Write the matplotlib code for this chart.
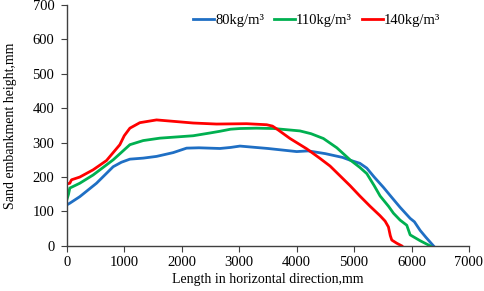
import numpy as np
import matplotlib
matplotlib.use('Agg')
from matplotlib import pyplot as plt

x_80 = [0, 52, 226, 517, 807, 950, 1098, 1330, 1562, 1852, 2085, 2300, 2665, 2850, 3014, 3500, 4001, 4200, 4500, 4800, 4930, 5100, 5221, 5350, 5511, 5650, 5801, 5976, 6050, 6150, 6250, 6382]
y_80 = [119, 124, 143, 182, 230, 243, 252, 255, 260, 271, 284, 285, 283, 286, 290, 283, 274, 276, 268, 257, 249, 240, 226, 200, 170, 142, 112, 80, 70, 45, 25, 0]

x_110 = [0, 30, 52, 226, 458, 807, 1098, 1330, 1620, 2200, 2491, 2665, 2850, 3014, 3300, 3600, 4059, 4250, 4466, 4700, 4930, 5100, 5221, 5350, 5453, 5600, 5685, 5800, 5917, 5976, 6150, 6324]
y_110 = [134, 150, 168, 182, 206, 250, 294, 306, 313, 320, 328, 333, 339, 341, 342, 341, 334, 326, 312, 285, 250, 228, 210, 175, 145, 115, 95, 75, 60, 32, 15, 0]

x_140 = [0, 52, 82, 226, 458, 691, 923, 1000, 1098, 1272, 1562, 2200, 2607, 3130, 3479, 3580, 3653, 3885, 4176, 4400, 4582, 4930, 5100, 5279, 5450, 5540, 5598, 5630, 5656, 5740, 5830]
y_140 = [180, 182, 192, 200, 221, 248, 294, 320, 342, 358, 366, 357, 354, 355, 352, 348, 340, 312, 282, 255, 232, 175, 145, 115, 88, 72, 55, 30, 17, 8, 0]

labels = ['80kg/m³', '110kg/m³', '140kg/m³']
colors = ['#1f6fc4', '#00b050', '#ff0000']

plt.rcParams['font.family'] = ['Liberation Serif', 'DejaVu Serif']

fig = plt.figure(figsize=(4.84, 2.91), dpi=100)
ax = fig.add_axes([0.138, 0.155, 0.831, 0.828])

for xs, ys, lab, c in zip([x_80, x_110, x_140], [y_80, y_110, y_140], labels, colors):
	ax.plot(xs, ys, color=c, lw=2, label=lab)

ax.set_xlim(0, 7000)
ax.set_ylim(0, 700)
ax.set_xticks(np.arange(0, 7001, 1000))
ax.set_yticks(np.arange(0, 701, 100))
ax.spines['top'].set_visible(False)
ax.spines['right'].set_visible(False)
for s in ['left', 'bottom']:
	ax.spines[s].set_color('#404040')
	ax.spines[s].set_linewidth(1)
ax.tick_params(direction='out', length=4, color='#404040', labelsize=10.5)
ax.tick_params(axis='y', pad=5)
ax.set_xlabel('Length in horizontal direction,mm', fontsize=10, labelpad=3)
ax.set_ylabel('Sand embankment height,mm', fontsize=10, labelpad=11)
ax.legend(loc='upper right', bbox_to_anchor=(0.947, 0.995), ncol=3, frameon=False,
	borderpad=0, handlelength=1.4, handletextpad=0.1, columnspacing=0.7, fontsize=10.5)

fig.savefig('out.png', dpi=100)
